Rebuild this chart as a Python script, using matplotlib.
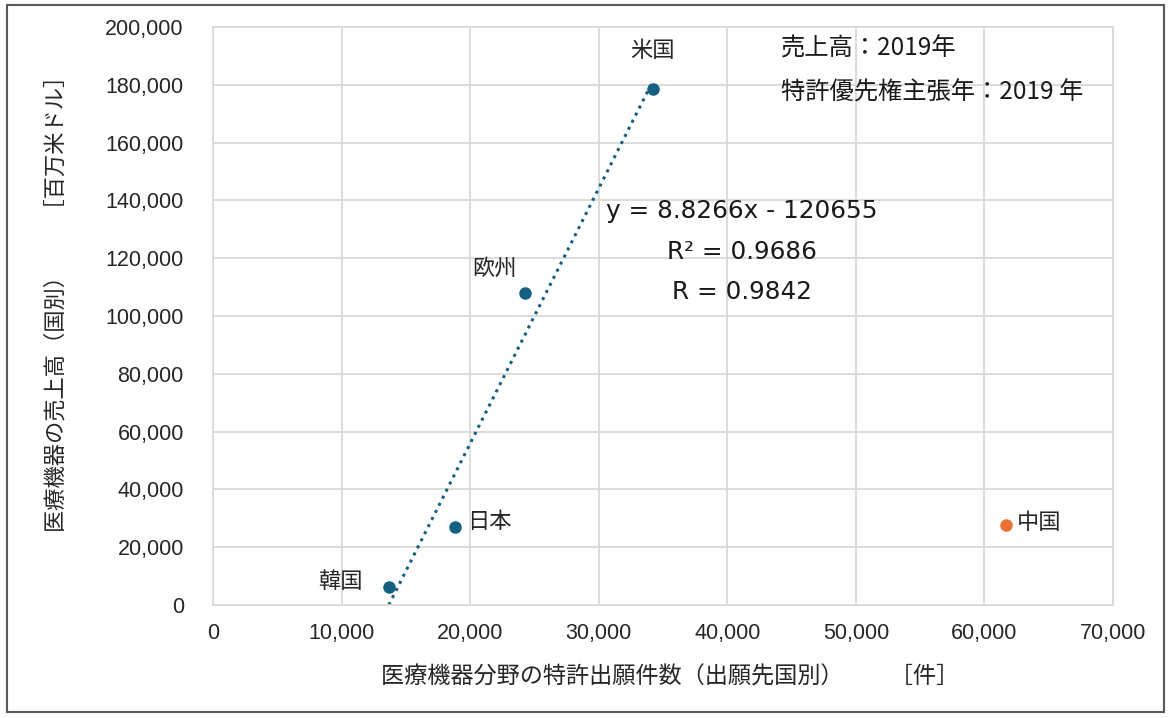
import matplotlib.pyplot as plt
from matplotlib.patches import Rectangle
from matplotlib.ticker import FuncFormatter

plt.rcParams['font.family'] = ['Liberation Sans', 'Noto Sans CJK JP', 'DejaVu Sans']

# patent applications (x) vs medical device sales (y), 2019
countries = ['米国', '欧州', '日本', '韓国']
patents = [34220, 24270, 18820, 13690]
sales = [178500, 108000, 27000, 6200]

china_patents = 61680
china_sales = 27700

# trendline shown in the chart (fit on the four blue points)
slope = 8.8266
intercept = -120655
r2 = 0.9686
r = 0.9842

blue = '#156082'
orange = '#E97132'
grid_c = '#d9d9d9'
jp = ['Noto Sans CJK JP', 'DejaVu Sans']

fig = plt.figure(figsize=(11.71, 7.18), dpi=100)
ax = fig.add_axes([0.1819, 0.1574, 0.7686, 0.8050])

ax.set_xlim(0, 70000)
ax.set_ylim(0, 200000)
ax.set_xticks(range(0, 70001, 10000))
ax.set_yticks(range(0, 200001, 20000))
fmt = FuncFormatter(lambda v, p: f'{int(v):,}')
ax.xaxis.set_major_formatter(fmt)
ax.yaxis.set_major_formatter(fmt)
ax.tick_params(length=0, labelsize=15.5, colors='#262626')
ax.tick_params(axis='y', pad=21)
ax.tick_params(axis='x', pad=13)
ax.grid(True, color=grid_c, linewidth=1.3)
ax.set_axisbelow(True)
for s in ax.spines.values():
    s.set_color(grid_c)
    s.set_linewidth(1.3)

# trendline
x0 = -intercept / slope
x1 = max(patents)
ax.plot([x0, x1], [slope * x0 + intercept, slope * x1 + intercept],
        linestyle=(0, (1, 1.6)), color=blue, linewidth=2.2, zorder=2)

ax.scatter(patents, sales, s=64, color=blue, zorder=3)
ax.scatter([china_patents], [china_sales], s=64, color=orange, zorder=3)

# point labels
lab_kw = dict(fontsize=16, family=jp, color='#262626')
ax.annotate('米国', (patents[0], sales[0]), xytext=(0, 28), textcoords='offset points',
            ha='center', va='center', **lab_kw)
ax.annotate('欧州', (patents[1], sales[1]), xytext=(-22, 18), textcoords='offset points',
            ha='center', va='center', **lab_kw)
ax.annotate('日本', (patents[2], sales[2]), xytext=(9, 4), textcoords='offset points',
            ha='left', va='center', **lab_kw)
ax.annotate('韓国', (patents[3], sales[3]), xytext=(-19, 4), textcoords='offset points',
            ha='right', va='center', **lab_kw)
ax.annotate('中国', (china_patents, china_sales), xytext=(8, 2), textcoords='offset points',
            ha='left', va='center', **lab_kw)

# equation / notes
eq_kw = dict(fontsize=17.8, color='#1a1a1a', ha='center', va='center',
             family=['DejaVu Sans'])
ax.text(41150, 136300, f'y = {slope}x - {-intercept}', **eq_kw)
ax.text(41150, 122200, f'R² = {r2}', **eq_kw)
ax.text(41150, 108300, f'R = {r}', **eq_kw)

ax.text(44200, 192400, '売上高：2019年', fontsize=17.5, family=jp, color='#1a1a1a',
        ha='left', va='center')
ax.text(44200, 177500, '特許優先権主張年：2019 年', fontsize=17.5, family=jp, color='#1a1a1a',
        ha='left', va='center')

ax.set_xlabel('医療機器分野の特許出願件数（出願先国別）　　［件］', fontsize=16.7,
              family=jp, color='#262626', labelpad=20)
ax.xaxis.set_label_coords(0.508, -0.105)
ax.set_ylabel('医療機器の売上高（国別）　　［百万米ドル］', fontsize=16,
              family=jp, color='#262626')
ax.yaxis.set_label_coords(-0.162, 0.531)

# outer frame
fig.patches.append(Rectangle((0.006, 0.008), 0.988, 0.985, transform=fig.transFigure,
                             fill=False, edgecolor='#595959', linewidth=1.5))

fig.savefig('out.png', dpi=100)
